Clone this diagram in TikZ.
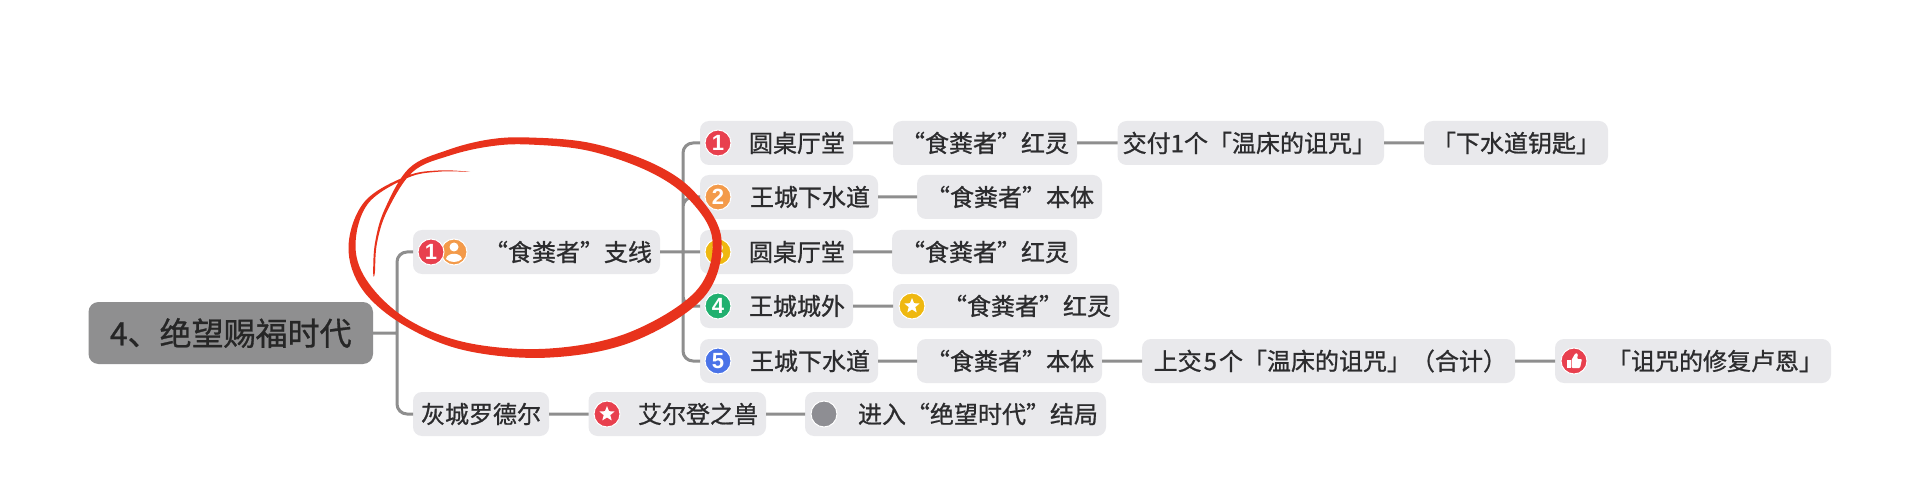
\documentclass[tikz,border=0pt]{standalone}
\usepackage{fontspec}
\setmainfont{Noto Sans CJK SC}[FakeBold=0.9]
\newfontfamily\iconfont{Liberation Sans}[Scale=1]
\usetikzlibrary{shapes.geometric}
\definecolor{boxgray}{HTML}{E9E9EC}
\definecolor{rootgray}{HTML}{8F8F90}
\definecolor{linkgray}{HTML}{8E8E8E}
\definecolor{inkgray}{HTML}{2C2C2E}
\definecolor{ringred}{HTML}{E8321C}
\definecolor{iconred}{HTML}{E8404E}
\definecolor{iconorange}{HTML}{F39A4A}
\definecolor{iconyellow}{HTML}{EFB810}
\definecolor{icongreen}{HTML}{21B06F}
\definecolor{iconblue}{HTML}{4A73E8}
\definecolor{icongray}{HTML}{8E8E93}
\begin{document}
\begin{tikzpicture}[x=1pt, y=-1pt]
        \tikzstyle{item}=[anchor=west, fill=boxgray, text=inkgray, rounded corners=9pt, minimum height=44pt, inner xsep=8pt, inner ysep=0pt, outer sep=0pt, font=\fontsize{24}{28}\selectfont, align=right, text width=#1pt-16pt]
        \tikzstyle{icon}=[circle, draw=white, line width=1pt, minimum size=26pt, inner sep=0pt, text=white, font=\iconfont\bfseries\fontsize{22}{24}\selectfont]
        \tikzstyle{link}=[draw=linkgray, line width=3pt, rounded corners=10pt]
        \useasboundingbox (0,0) rectangle (1920,481);
        \fill[white] (0,0) rectangle (1920,481);

        \path (88.5, 333) node[anchor=west, fill=rootgray, text=black!85, rounded corners=10pt, minimum width=284.5pt, minimum height=62pt, outer sep=0pt, font=\fontsize{32}{36}\selectfont] (root) {4、绝望赐福时代};

        \foreach \n/\l/\y/\w/\t in {
          side/413/252/247/“食粪者”支线, lore/413/414/136/灰城罗德尔,
          a1/700/143/153/圆桌厅堂, b1/893/143/184/“食粪者”红灵, c1/1117.5/143/266.5/交付1个「温床的诅咒」, d1/1424/143/184/「下水道钥匙」,
          a2/700/197/178/王城下水道, b2/917/197/185/“食粪者”本体,
          a3/700/252/153/圆桌厅堂, b3/892/252/185/“食粪者”红灵,
          a4/700/306/153/王城城外, b4/893/306/226/“食粪者”红灵,
          a5/700/361/178/王城下水道, b5/917/361/185/“食粪者”本体, c5/1142/361/373/上交\hspace{2pt}5\hspace{2pt}个「温床的诅咒」（合计）, d5/1555/361/276/「诅咒的修复卢恩」,
          b6/588.5/414/177.5/艾尔登之兽, c6/805/414/301/进入“绝望时代”结局}
        {
          \path (\l, \y) node[item=\w] (\n) {\makebox[\linewidth][r]{\t}};
        }

        \coordinate (forkroot) at (397, 333);
        \coordinate (forkside) at (683, 252);

        \draw [link]
          (root) -- (forkroot)
          (forkroot) |- (side)
          (forkroot) |- (lore)
          (side) -- (forkside)
          (forkside) -- (a3)
          (forkside) |- (a1)
          (forkside) |- (a2)
          (forkside) |- (a4)
          (forkside) |- (a5)
          (a1) -- (b1)
          (b1) -- (c1)
          (c1) -- (d1)
          (a2) -- (b2)
          (a3) -- (b3)
          (a4) -- (b4)
          (a5) -- (b5)
          (b5) -- (c5)
          (c5) -- (d5)
          (lore) -- (b6)
          (b6) -- (c6);

        \path (454, 252) node[icon, fill=iconorange] (person) {};
        \fill[white] (454, 247) circle (4.5);
        \fill[white] (446, 259) .. controls (447, 252) and (461, 252) .. (462, 259) .. controls (458, 263) and (450, 263) .. (446, 259);

        \foreach \n/\x/\y/\c/\t in {
          num0/431/252/iconred/1,
          num1/718/143/iconred/1, num2/718/197/iconorange/2, num3/718/252/iconyellow/3,
          num4/718/306/icongreen/4, num5/718/361/iconblue/5,
          starb/912/306/iconyellow/, starr/607/414/iconred/, thumb/1574/361/iconred/, dot/824/414/icongray/}
        {
          \path (\x, \y) node[icon, fill=\c] (\n) {\t};
        }

        \path (starb) node[star, star points=5, star point ratio=2.3, fill=white, minimum size=16pt, inner sep=0pt] (starbin) {};
        \path (starr) node[star, star points=5, star point ratio=2.3, fill=white, minimum size=16pt, inner sep=0pt] (starrin) {};
        \begin{scope}[shift={(thumb.center)}]
          \fill[white] (-7.5, -1) rectangle (-3.5, 7);
          \fill[white, rounded corners=1pt] (-2.5, -1) -- (1.5, -8) -- (4, -7) -- (3, -2) -- (8, -2) -- (6, 7) -- (-2.5, 7) -- cycle;
        \end{scope}

        \fill[ringred] plot[smooth cycle, tension=0.6] coordinates {
          (373.2,273) (375,243) (384.6,209.5) (409.2,168.2) (446.8,150.3) (488.3,139.6) (529,137.5)
          (590.8,143.1) (654.3,164.1) (696.2,193.8) (721.5,239.6) (704,297) (633.1,341.5)
          (550.2,357.5) (466.8,350.8) (404.9,325.8) (362.6,289.8) (348.5,247) (364.3,202)
          (406.6,176.1) (440,170.4) (470,172)
          (440,171.6) (407.4,177.9) (367.7,204) (355.5,247) (369.4,284.2) (409.1,320.2)
          (469.2,343.2) (549.8,348.5) (628.9,332.5) (696,291) (712.5,240.4) (689.8,200.2)
          (649.7,171.9) (589.2,150.9) (529,144.5) (489.7,146.4) (449.2,155.7) (412.8,171.8)
          (387.4,210.5) (377,243) (374.8,273)};
      \end{tikzpicture}
\end{document}
